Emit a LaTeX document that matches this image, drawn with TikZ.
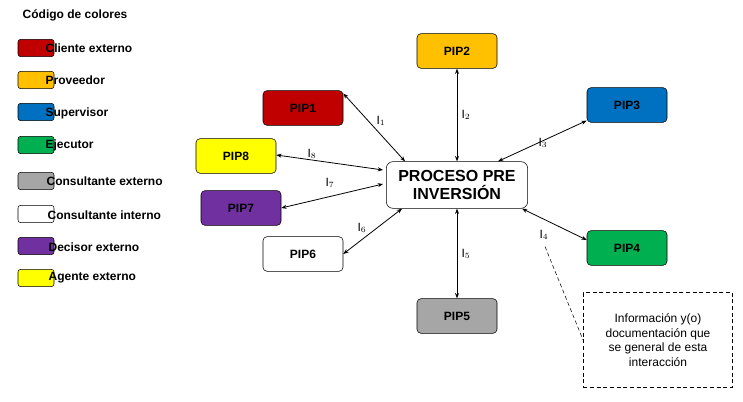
\documentclass[tikz,border=0pt]{standalone}
\usepackage{fontspec}
\setmainfont{Liberation Sans}
\usetikzlibrary{arrows.meta, positioning, calc}
\definecolor{cliente}{RGB}{192,0,0}
\definecolor{proveedor}{RGB}{255,192,0}
\definecolor{supervisor}{RGB}{0,112,192}
\definecolor{ejecutor}{RGB}{0,176,80}
\definecolor{consext}{RGB}{166,166,166}
\definecolor{decisor}{RGB}{112,48,160}
\definecolor{agente}{RGB}{255,255,0}
\tikzset{
  pip/.style={draw, rounded corners=3pt, minimum width=60pt, minimum height=26pt, font=\bfseries\small},
  swatch/.style={draw, rounded corners=2pt, minimum width=27pt, minimum height=13pt, inner sep=0pt},
  leg/.style={right, font=\bfseries\small, inner sep=1pt},
  link/.style={{Stealth[length=4pt]}-{Stealth[length=4pt]}, semithick},
  ilab/.style={font=\small}
}
\begin{document}
\begin{tikzpicture}[x=0.75pt, y=-0.75pt]
    \useasboundingbox (0,0) rectangle (743,402);

    % Color legend
    \node[right, font=\bfseries\small] (title) at (18,15) {Código de colores};
    \node[swatch, fill=cliente] (s1) at (36,48) {};
    \node[leg] at (44,48) {Cliente externo};
    \node[swatch, fill=proveedor] (s2) at (36,80) {};
    \node[leg] at (44,80) {Proveedor};
    \node[swatch, fill=supervisor] (s3) at (36,112) {};
    \node[leg] at (44,113) {Supervisor};
    \node[swatch, fill=ejecutor] (s4) at (36,145) {};
    \node[leg] at (44,145) {Ejecutor};
    \node[swatch, fill=consext] (s5) at (36,181) {};
    \node[leg] at (45,181) {Consultante externo};
    \node[swatch, fill=white] (s6) at (36,214) {};
    \node[leg] at (46,215) {Consultante interno};
    \node[swatch, fill=decisor] (s7) at (36,246) {};
    \node[leg] at (47,247) {Decisor externo};
    \node[swatch, fill=agente] (s8) at (36,278) {};
    \node[leg] at (47,278) {Agente externo};

    % Process and actors
    \node[draw, rounded corners=5pt, minimum width=106pt, minimum height=35pt, align=center,
          font=\bfseries\large, inner sep=1pt] (proc) at (457,185) {PROCESO PRE\\INVERSIÓN};
    \node[pip, fill=cliente] (pip1) at (303,108) {PIP1};
    \node[pip, fill=proveedor] (pip2) at (457,51) {PIP2};
    \node[pip, fill=supervisor] (pip3) at (627,105) {PIP3};
    \node[pip, fill=ejecutor] (pip4) at (627,248) {PIP4};
    \node[pip, fill=consext] (pip5) at (457,316) {PIP5};
    \node[pip, fill=white] (pip6) at (303,254) {PIP6};
    \node[pip, fill=decisor] (pip7) at (241,208) {PIP7};
    \node[pip, fill=agente] (pip8) at (236,156) {PIP8};

    % Interactions
    \draw[link] ($(pip1.north east)+(0,3)$) -- ($(proc.north west)+(19,0)$);
    \draw[link] (pip2.south) -- (proc.north);
    \draw[link] ($(pip3.south west)+(0,-2)$) -- ($(proc.north east)+(-30,0)$);
    \draw[link] ($(pip8.east)+(0,-1)$) -- ($(proc.west)+(-3,-15)$);
    \draw[link] (pip7.east) -- ($(proc.west)+(-3,-1)$);
    \draw[link] (pip6.east) -- ($(proc.south west)+(16,0)$);
    \draw[link] (proc.south) -- (pip5.north);
    \draw[link] ($(proc.south east)+(-6,0)$) -- ($(pip4.west)+(0,-8)$);
    \node[ilab] (l1) at (381,121) {I$_1$};
    \node[ilab] (l2) at (466,115) {I$_2$};
    \node[ilab] (l3) at (543,143) {I$_3$};
    \node[ilab] (l4) at (544,235) {I$_4$};
    \node[ilab] (l5) at (466,254) {I$_5$};
    \node[ilab] (l6) at (362,228) {I$_6$};
    \node[ilab] (l7) at (330,183) {I$_7$};
    \node[ilab] (l8) at (312,154) {I$_8$};

    % Note
    \node[draw, densely dashed, minimum width=112pt, minimum height=71pt, align=center,
          font=\small] (info) at (658,340) {Información y(o)\\documentación que\\se general de esta\\interacción};
    \draw[densely dashed] ($(l4.south)+(1,2)$) -- ($(info.west)+(0,0)$);
\end{tikzpicture}
\end{document}
